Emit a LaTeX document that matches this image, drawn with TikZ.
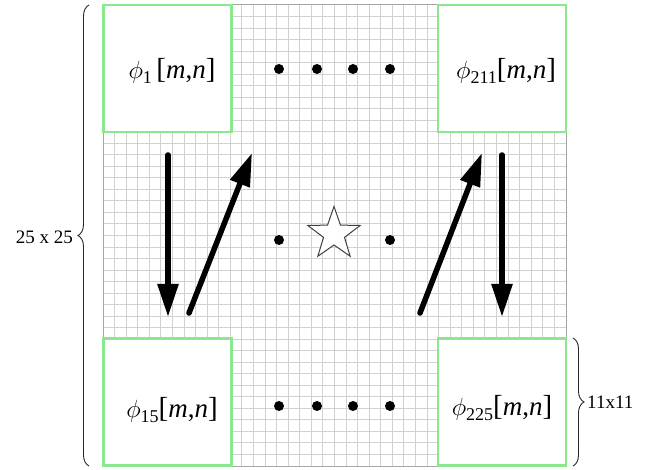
\documentclass[tikz,border=0pt]{standalone}
\usepackage{fontspec}
\setmainfont{Liberation Serif}
\usetikzlibrary{arrows.meta,shapes.geometric,decorations.pathreplacing}
\definecolor{boxgreen}{RGB}{140,232,140}
\definecolor{gridgray}{RGB}{210,210,210}
\newcommand{\philab}[2]{{\fontsize{27}{27}\selectfont$\phi$\raisebox{-0.4ex}{\fontsize{18}{18}\selectfont #1}#2{\fontsize{29}{29}\selectfont[}\textit{m},\textit{n}{\fontsize{29}{29}\selectfont]}}}
\begin{document}
\begin{tikzpicture}[x=1pt,y=-1pt,
  cellbox/.style={draw=boxgreen,line width=2.5pt,fill=white,minimum width=128pt,minimum height=127pt,inner sep=0pt},
  lab/.style={inner sep=0pt},
  bigdot/.style={circle,fill=black,minimum size=10pt,inner sep=0pt},
  bigarrow/.style={line width=5.5pt,line cap=round,-{Triangle[length=33pt,width=20pt]}},
  brc/.style={decorate,decoration={brace,amplitude=11pt},line width=0.9pt,draw=black!85}]
\useasboundingbox (0,0) rectangle (656,470);
% grid
\foreach \i in {0,...,40}{
  \draw[gridgray,line width=1pt] ({103+\i*11.575},5) -- ({103+\i*11.575},466);
  \draw[gridgray,line width=1pt] (103,{5+\i*11.525}) -- (566,{5+\i*11.525});
}
\draw[gray!70,line width=1pt] (103,5) rectangle (566,466);
% boxes
\node[cellbox] (b1) at (167.5,68.5) {};
\node[cellbox] (b2) at (502,68.5) {};
\node[cellbox] (b3) at (167.5,402) {};
\node[cellbox] (b4) at (502,402) {};
\node[lab] (l1) at (172,71) {\philab{1}{\,}};
\node[lab] (l2) at (506,71) {\philab{211}{}};
\node[lab] (l3) at (172,410) {\philab{15}{}};
\node[lab] (l4) at (502,408) {\philab{225}{}};
% dots
\foreach \x [count=\k] in {279,317,353,390}{
  \node[bigdot] (t\k) at (\x,69) {};
  \node[bigdot] (u\k) at (\x,406) {};
}
\node[bigdot] (m1) at (279,240) {};
\node[bigdot] (m2) at (390,240) {};
\node[star,star points=5,star point ratio=2.5,draw=black!75,fill=white,line width=1pt,minimum size=55pt,inner sep=0pt] (st) at (334,234) {};
% arrows
\coordinate (a1s) at (168,155); \coordinate (a1e) at (168,317);
\coordinate (a2s) at (189,313); \coordinate (a2e) at (252,153);
\coordinate (a3s) at (420,313); \coordinate (a3e) at (482,153);
\coordinate (a4s) at (502,155); \coordinate (a4e) at (502,317);
\draw[bigarrow] (a1s) -- (a1e);
\draw[bigarrow] (a2s) -- (a2e);
\draw[bigarrow] (a3s) -- (a3e);
\draw[bigarrow] (a4s) -- (a4e);
% braces
\coordinate (bl1) at (89,466); \coordinate (bl2) at (89,5);
\draw[brc] (bl1) -- (bl2);
\coordinate (br1) at (573,338); \coordinate (br2) at (573,466);
\draw[brc] (br1) -- (br2);
\node[lab,anchor=east] (t25) at (73,237) {\fontsize{19}{19}\selectfont 25 x 25};
\node[lab,anchor=west] (t11) at (587,402) {\fontsize{19}{19}\selectfont 11x11};
\end{tikzpicture}
\end{document}
